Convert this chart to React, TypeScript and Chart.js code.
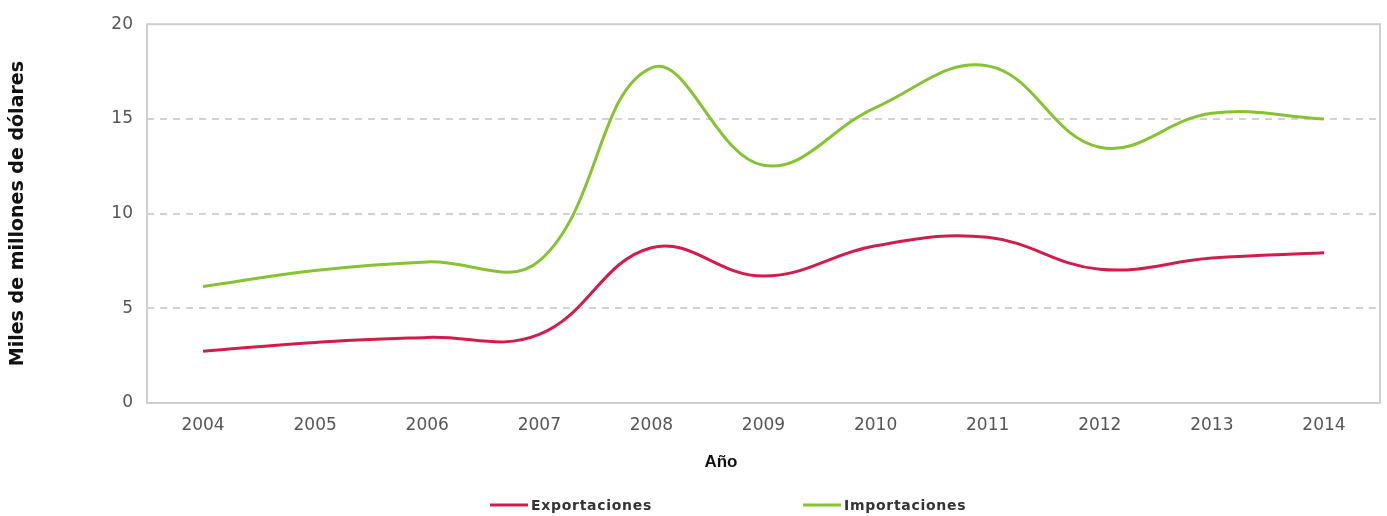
import React, { useEffect, useRef } from "react";
import { Chart, registerables } from "chart.js";

Chart.register(...registerables);

const years = ["2004", "2005", "2006", "2007", "2008", "2009", "2010", "2011", "2012", "2013", "2014"];
const exportaciones = [2.73, 3.2, 3.46, 3.62, 8.2, 6.7, 8.3, 8.75, 7.06, 7.65, 7.93];
const importaciones = [6.15, 7.0, 7.45, 7.5, 17.7, 12.55, 15.6, 17.8, 13.5, 15.3, 15.0];
const yTicks = [0, 5, 10, 15, 20];

const RED = "#d11d4c";
const GREEN = "#86c232";

const extrasPlugin = {
  id: "extras",
  beforeDatasetsDraw(chart: any) {
    const { ctx, chartArea } = chart;
    ctx.save();
    ctx.strokeStyle = "#cfcfcf";
    ctx.lineWidth = 2;
    ctx.strokeRect(chartArea.left, chartArea.top, chartArea.right - chartArea.left, chartArea.bottom - chartArea.top);
    ctx.restore();
  },
  afterDraw(chart: any) {
    const { ctx, chartArea } = chart;
    const w = chartArea.right - chartArea.left;
    ctx.save();
    // x axis title
    ctx.fillStyle = "#111";
    ctx.font = "bold 17px 'Liberation Sans', Arial, sans-serif";
    ctx.textAlign = "center";
    ctx.textBaseline = "middle";
    ctx.fillText("Año", chartArea.left + w * 0.4655, chartArea.bottom + 59);
    // legend
    const starts = [0.2782, 0.5321];
    ctx.font = "bold 14px 'DejaVu Sans', sans-serif";
    (ctx as any).letterSpacing = "0.7px";
    ctx.textAlign = "left";
    chart.data.datasets.forEach((ds: any, i: number) => {
      const x = chartArea.left + w * starts[i];
      const y = chartArea.bottom + 102;
      ctx.strokeStyle = ds.borderColor;
      ctx.lineWidth = 3;
      ctx.beginPath();
      ctx.moveTo(x, y);
      ctx.lineTo(x + 38, y);
      ctx.stroke();
      ctx.fillStyle = "#333";
      ctx.fillText(ds.label, x + 41, y + 1);
    });
    (ctx as any).letterSpacing = "0px";
    ctx.restore();
  },
};

export default function App() {
  const ref = useRef<HTMLCanvasElement>(null);
  useEffect(() => {
    document.body.style.margin = "0";
    const chart = new Chart(ref.current!, {
      type: "line",
      data: {
        labels: years,
        datasets: [
          {
            label: "Exportaciones",
            data: exportaciones,
            borderColor: RED,
            backgroundColor: RED,
            borderWidth: 3,
            pointRadius: 0,
            tension: 0.4,
          },
          {
            label: "Importaciones",
            data: importaciones,
            borderColor: GREEN,
            backgroundColor: GREEN,
            borderWidth: 3,
            pointRadius: 0,
            tension: 0.4,
          },
        ],
      },
      options: {
        animation: false,
        responsive: true,
        maintainAspectRatio: false,
        layout: { padding: { top: 22, right: 7, left: 0, bottom: 0 } },
        plugins: {
          legend: { display: false },
          tooltip: { enabled: false },
        },
        scales: {
          x: {
            offset: true,
            grid: { display: false, drawTicks: false },
            border: { display: false },
            ticks: {
              padding: 12,
              color: "#555",
              font: { family: "'DejaVu Sans', sans-serif", size: 17 },
              maxRotation: 0,
            },
            afterFit(axis: any) {
              axis.height = 113;
            },
          },
          y: {
            min: yTicks[0],
            max: yTicks[yTicks.length - 1],
            afterBuildTicks(axis: any) {
              axis.ticks = yTicks.map((v) => ({ value: v }));
            },
            grid: {
              drawTicks: false,
              color: (c: any) => (c.tick && (c.tick.value === 0 || c.tick.value === 20) ? "rgba(0,0,0,0)" : "#d2d2d2"),
              lineWidth: 2,
            },
            border: { display: false, dash: [7, 6] },
            ticks: {
              padding: 14,
              color: "#555",
              font: { family: "'DejaVu Sans', sans-serif", size: 17 },
            },
            title: {
              display: true,
              text: "Miles de millones de dólares",
              color: "#111",
              font: { family: "'DejaVu Sans', sans-serif", size: 19, weight: "bold" },
              padding: { top: 7, bottom: 0 },
            },
            afterFit(axis: any) {
              axis.width = 147;
            },
          },
        },
      },
      plugins: [extrasPlugin],
    });
    return () => chart.destroy();
  }, []);
  return (
    <div style={{ width: "1387px", height: "516px", position: "relative" }}>
      <canvas ref={ref} />
    </div>
  );
}
